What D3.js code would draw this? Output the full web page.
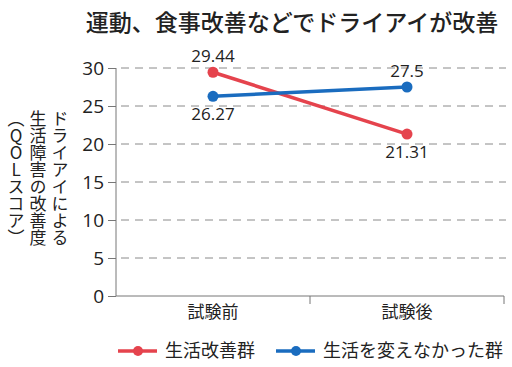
<!DOCTYPE html>
<html>
<head>
<meta charset="utf-8">
<script src="https://cdn.jsdelivr.net/npm/d3@7"></script>
<style>
  body { margin: 0; background: #fff; }
  svg { display: block; font-family: "Noto Sans CJK JP", "Noto Sans", sans-serif; }
</style>
</head>
<body>
<script>
var categories = ["試験前", "試験後"];
var improved = [29.44, 21.31];
var unchanged = [26.27, 27.5];
var yTicks = [0, 5, 10, 15, 20, 25, 30];
var seriesNames = ["生活改善群", "生活を変えなかった群"];
var titleText = "運動、食事改善などでドライアイが改善";
var yTitle = ["ドライアイによる", "生活障害の改善度", "（QOLスコア）"];

var W = 512, H = 367;
var red = "#e5434d", blue = "#1a6cbf", ink = "#222";

var svg = d3.select("body").append("svg").attr("width", W).attr("height", H);

svg.append("text")
  .attr("x", 292).attr("y", 31)
  .attr("text-anchor", "middle")
  .attr("font-size", 23).attr("font-weight", 500)
  .attr("fill", ink)
  .text(titleText);

var x = d3.scaleBand().domain(categories).range([116, 504]);
var y = d3.scaleLinear().domain([0, 30]).range([296, 68]);

// grid
svg.append("g").selectAll("line")
  .data(yTicks.filter(function(d) { return d > 0; }))
  .enter().append("line")
  .attr("x1", 121).attr("x2", 506)
  .attr("y1", function(d) { return y(d); })
  .attr("y2", function(d) { return y(d); })
  .attr("stroke", "#8a8a8a").attr("stroke-width", 1)
  .attr("stroke-dasharray", "8,6");

// y axis
var yAxis = d3.axisLeft(y).tickValues(yTicks).tickSize(8).tickPadding(4);
var gy = svg.append("g").attr("transform", "translate(116,0)").call(yAxis);
gy.select(".domain").attr("stroke", "#777").attr("d", "M0,68V296");
gy.selectAll(".tick line").attr("stroke", "#777");
gy.selectAll(".tick text").attr("font-size", 19).attr("fill", ink)
  .attr("font-family", "'Open Sans', 'Noto Sans', sans-serif");

// x axis
var gx = svg.append("g").attr("transform", "translate(0,296)");
gx.append("line").attr("x1", 116).attr("x2", 504).attr("y1", 0).attr("y2", 0).attr("stroke", "#777");
gx.selectAll("line.tk")
  .data(categories)
  .enter().append("line").attr("class", "tk")
  .attr("x1", function(d) { return x(d) + x.bandwidth(); })
  .attr("x2", function(d) { return x(d) + x.bandwidth(); })
  .attr("y1", 0).attr("y2", 8).attr("stroke", "#777");
gx.selectAll("text")
  .data(categories)
  .enter().append("text")
  .attr("x", function(d) { return x(d) + x.bandwidth() / 2; })
  .attr("y", 22)
  .attr("text-anchor", "middle").attr("font-size", 17).attr("fill", ink)
  .text(function(d) { return d; });

// y title, vertical
yTitle.forEach(function(t, i) {
  svg.append("text")
    .attr("x", 60 - i * 22).attr("y", 110)
    .attr("writing-mode", "vertical-rl")
    .style("text-orientation", "upright")
    .attr("font-size", 17).attr("fill", ink)
    .text(t);
});

function cx(i) { return x(categories[i]) + x.bandwidth() / 2; }

var line = d3.line().x(function(d, i) { return cx(i); }).y(function(d) { return y(d); });

var series = [
  { name: seriesNames[0], values: improved, color: red, pos: ["above", "below"] },
  { name: seriesNames[1], values: unchanged, color: blue, pos: ["below", "above"] }
];

series.forEach(function(s) {
  svg.append("path").datum(s.values)
    .attr("d", line).attr("fill", "none")
    .attr("stroke", s.color).attr("stroke-width", 3.5);
  svg.selectAll(null).data(s.values).enter().append("circle")
    .attr("cx", function(d, i) { return cx(i); })
    .attr("cy", function(d) { return y(d); })
    .attr("r", 5.5).attr("fill", s.color);
  svg.selectAll(null).data(s.values).enter().append("text")
    .attr("x", function(d, i) { return cx(i); })
    .attr("y", function(d, i) { return s.pos[i] == "above" ? y(d) - 10 : y(d) + 24; })
    .attr("text-anchor", "middle").attr("font-size", 17).attr("fill", ink)
    .attr("font-family", "'Open Sans', 'Noto Sans', sans-serif")
    .text(function(d) { return d; });
});

// legend
var legendX = [118, 276];
series.forEach(function(s, i) {
  var g = svg.append("g").attr("transform", "translate(" + legendX[i] + ",351)");
  g.append("line").attr("x1", 0).attr("x2", 39).attr("y1", 0).attr("y2", 0)
    .attr("stroke", s.color).attr("stroke-width", 3.5);
  g.append("circle").attr("cx", 20).attr("cy", 0).attr("r", 5).attr("fill", s.color);
  g.append("text").attr("x", 47).attr("y", 6)
    .attr("font-size", 18).attr("fill", ink)
    .text(s.name);
});
</script>
</body>
</html>
